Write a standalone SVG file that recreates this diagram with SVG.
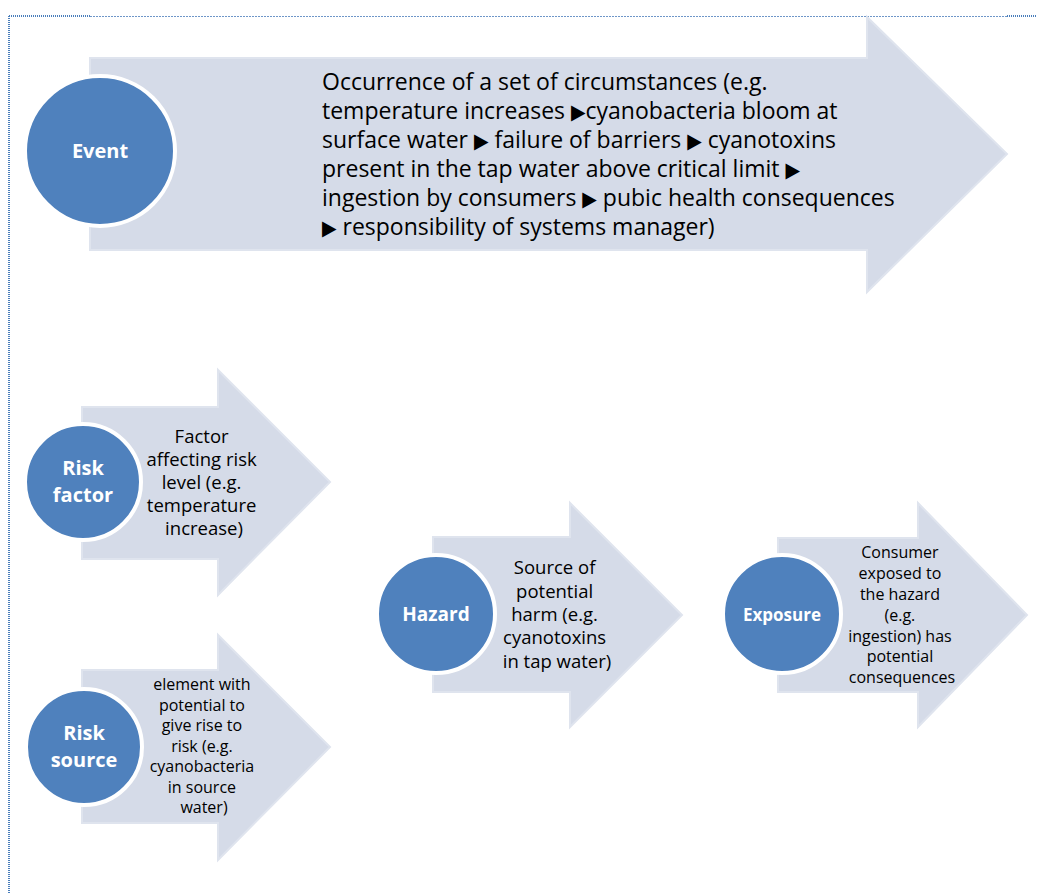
<svg xmlns="http://www.w3.org/2000/svg" width="1037" height="893" viewBox="0 0 1037 893">
  <style>
    .arrow { fill: #D5DBE8; stroke: #DFE4EE; stroke-width: 2; }
    .disc { fill: #4F81BD; stroke: #FFFFFF; stroke-width: 4; }
    .lbl { font-family: "Open Sans", "Liberation Sans", sans-serif; font-weight: bold; fill: #FFFFFF; text-anchor: middle; }
    .body { font-family: "Open Sans", "Liberation Sans", sans-serif; fill: #000000; }
    .mid { text-anchor: middle; }
    .tri { font-family: "DejaVu Sans Condensed", "DejaVu Sans", sans-serif; font-size: 21px; }
    .frame-dark { stroke: #4A7EBB; stroke-width: 2; stroke-dasharray: 1 1; fill: none; }
    .frame-light { stroke: #6E96C8; stroke-width: 1; stroke-dasharray: 2 1; fill: none; }
  </style>

  <rect width="1037" height="893" fill="#FFFFFF"/>

  <!-- page frame -->
  <g id="frame">
    <line class="frame-dark" x1="9" y1="16" x2="90" y2="16"/>
    <line class="frame-light" x1="90" y1="16.5" x2="1007" y2="16.5"/>
    <line class="frame-dark" x1="1007" y1="16" x2="1037" y2="16"/>
    <line class="frame-dark" x1="9" y1="16" x2="9" y2="893"/>
  </g>

  <!-- Event -->
  <g id="event">
    <polygon class="arrow" points="90,58 867,58 867,17 1007,154 867,292 867,250 90,250"/>
    <circle class="disc" cx="100" cy="151" r="75"/>
    <text class="lbl" x="100" y="158" font-size="20">Event</text>
    <text class="body" font-size="23">
      <tspan x="322" y="90">Occurrence of a set of circumstances (e.g.</tspan>
      <tspan x="322" y="119">temperature increases <tspan class="tri">▶</tspan>cyanobacteria bloom at</tspan>
      <tspan x="322" y="148">surface water <tspan class="tri">▶</tspan> failure of barriers <tspan class="tri">▶</tspan> cyanotoxins</tspan>
      <tspan x="322" y="177">present in the tap water above critical limit <tspan class="tri">▶</tspan></tspan>
      <tspan x="322" y="206">ingestion by consumers <tspan class="tri">▶</tspan> pubic health consequences</tspan>
      <tspan x="322" y="235"><tspan class="tri">▶</tspan> responsibility of systems manager)</tspan>
    </text>
  </g>

  <!-- Risk factor -->
  <g id="risk-factor">
    <polygon class="arrow" points="82,407 218,407 218,370 330,482 218,595 218,559 82,559"/>
    <circle class="disc" cx="83" cy="482" r="58"/>
    <text class="lbl" font-size="20"><tspan x="83" y="475">Risk</tspan><tspan x="83" y="502">factor</tspan></text>
    <text class="body mid" font-size="18.5">
      <tspan x="204" y="443">Factor</tspan>
      <tspan x="204" y="466">affecting risk</tspan>
      <tspan x="204" y="489">level (e.g.</tspan>
      <tspan x="204" y="512">temperature</tspan>
      <tspan x="204" y="535">increase)</tspan>
    </text>
  </g>

  <!-- Risk source -->
  <g id="risk-source">
    <polygon class="arrow" points="82,670 218,670 218,635 330,747 218,860 218,823 82,823"/>
    <circle class="disc" cx="84" cy="747" r="58"/>
    <text class="lbl" font-size="20"><tspan x="84" y="740">Risk</tspan><tspan x="84" y="767">source</tspan></text>
    <text class="body mid" font-size="16">
      <tspan x="204" y="690">element with</tspan>
      <tspan x="204" y="711">potential to</tspan>
      <tspan x="204" y="731">give rise to</tspan>
      <tspan x="204" y="752">risk (e.g.</tspan>
      <tspan x="204" y="772">cyanobacteria</tspan>
      <tspan x="204" y="793">in source</tspan>
      <tspan x="204" y="813">water)</tspan>
    </text>
  </g>

  <!-- Hazard -->
  <g id="hazard">
    <polygon class="arrow" points="433,537 570,537 570,503 682,615 570,727 570,692 433,692"/>
    <circle class="disc" cx="436" cy="614" r="59"/>
    <text class="lbl" x="436" y="621" font-size="19">Hazard</text>
    <text class="body mid" font-size="18.5">
      <tspan x="557" y="574">Source of</tspan>
      <tspan x="557" y="598">potential</tspan>
      <tspan x="557" y="621">harm (e.g.</tspan>
      <tspan x="557" y="644">cyanotoxins</tspan>
      <tspan x="557" y="668">in tap water)</tspan>
    </text>
  </g>

  <!-- Exposure -->
  <g id="exposure">
    <polygon class="arrow" points="778,538 918,538 918,503 1027,615 918,727 918,692 778,692"/>
    <circle class="disc" cx="782" cy="614" r="59"/>
    <text class="lbl" x="782" y="621" font-size="17">Exposure</text>
    <text class="body mid" font-size="16">
      <tspan x="902" y="558">Consumer</tspan>
      <tspan x="902" y="579">exposed to</tspan>
      <tspan x="902" y="600">the hazard</tspan>
      <tspan x="902" y="621">(e.g.</tspan>
      <tspan x="902" y="642">ingestion) has</tspan>
      <tspan x="902" y="662">potential</tspan>
      <tspan x="902" y="683">consequences</tspan>
    </text>
  </g>
</svg>
